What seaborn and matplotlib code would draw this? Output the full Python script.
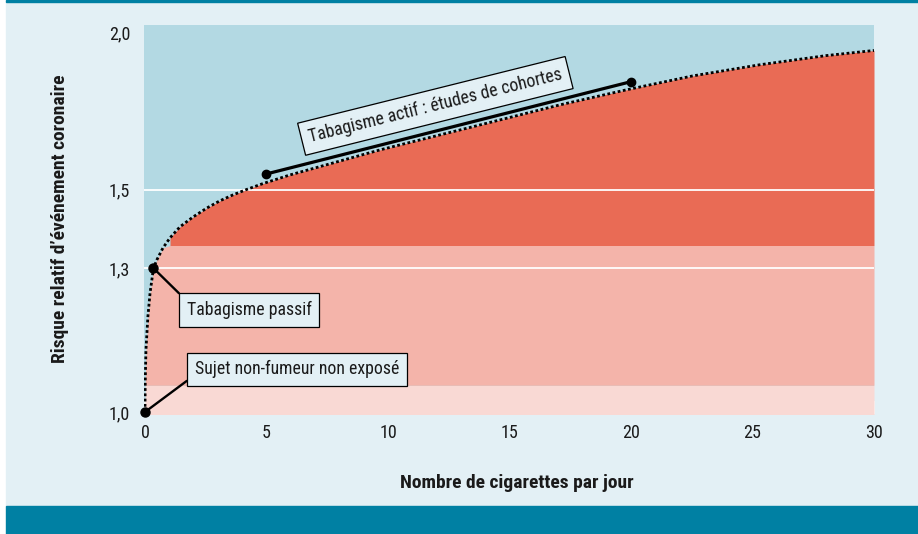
import numpy as np
import pandas as pd
import matplotlib
matplotlib.use("Agg")
import matplotlib.pyplot as plt
from matplotlib.patches import Rectangle
from matplotlib import font_manager
import seaborn as sns

# ---------------- data ----------------
cig_per_day = [0, 0.01, 0.04, 0.12, 0.21, 0.35, 0.49, 0.74, 1.03, 1.44, 1.97,
               2.55, 3.08, 3.62, 4.19, 4.81, 5.96, 9.66, 13.77, 17.06, 19.81,
               22.52, 25.28, 28.03, 30.0]
relative_risk = [1.0, 1.054, 1.12, 1.19, 1.243, 1.30, 1.32, 1.349, 1.374, 1.402,
                 1.427, 1.451, 1.470, 1.486, 1.501, 1.516, 1.541, 1.613, 1.688,
                 1.751, 1.800, 1.846, 1.884, 1.916, 1.934]

band_edges = [0.99, 1.05, 1.355, 2.1]          # light pink / pink / red
band_colors = ["#F9D9D4", "#F4B4AA", "#E96B55"]

cohort_x = [5, 20]
cohort_y = [1.544, 1.827]

passive_x, passive_y = 0.35, 1.30
nonsmoker_x, nonsmoker_y = 0, 1.0

x_ticks = [0, 5, 10, 15, 20, 25, 30]
x_ticklabels = ["0", "5", "10", "15", "20", "25", "30"]
y_ticks = [1.0, 1.3, 1.5, 2.0]
y_ticklabels = ["1,0", "1,3", "1,5", "2,0"]
grid_levels = [1.3, 1.5]

label_active = "Tabagisme actif : études de cohortes"
label_passive = "Tabagisme passif"
label_nonsmoker = "Sujet non-fumeur non exposé"
x_title = "Nombre de cigarettes par jour"
y_title = "Risque relatif d\u2019événement coronaire"

# ---------------- style ----------------
sns.set_theme(style="white")
available = {f.name for f in font_manager.fontManager.ttflist}
family = "DejaVu Sans"
for cand in ["Liberation Sans Narrow", "Roboto Condensed", "Open Sans Condensed",
             "Noto Sans", "Liberation Sans"]:
    if cand in available:
        family = cand
        break
plt.rcParams["font.family"] = [family, "DejaVu Sans"]

BG = "#E3F0F5"
BLUE = "#B3D9E3"
TEAL = "#0080A3"
TXT = "#1A1A1A"
FS = 12.8
FSB = 14

fig = plt.figure(figsize=(9.18, 5.34), dpi=100, facecolor="white")
fig.patches.append(Rectangle((6/918, 28/534), 912/918, 504/534,
                             transform=fig.transFigure, color=BG, zorder=-10))
fig.patches.append(Rectangle((6/918, 0), 912/918, 28/534,
                             transform=fig.transFigure, color=TEAL, zorder=-10))
fig.patches.append(Rectangle((6/918, 532/534), 912/918, 2/534,
                             transform=fig.transFigure, color=TEAL, zorder=-10))

ax = fig.add_axes([144/918, 1 - 414/534, 730/918, 389/534])
ax.set_facecolor(BLUE)
ax.set_yscale("log")
ax.set_xlim(-0.04, 30)
ax.set_ylim(0.9964, 2.026)

xs = np.array(cig_per_day)
ys = np.array(relative_risk)

# coloured bands under the curve
for lo, hi, col in zip(band_edges[:-1], band_edges[1:], band_colors):
    top = np.clip(ys, lo, hi)
    ax.fill_between(xs, lo, top, where=ys >= lo, color=col, lw=0, zorder=1)

for g in grid_levels:
    ax.axhline(g, color="white", lw=1.3, zorder=3)

df = pd.DataFrame({"x": cig_per_day, "y": relative_risk})
sns.lineplot(data=df, x="x", y="y", sort=False, estimator=None, ax=ax,
             color="black", lw=2.0, linestyle=(0, (1.0, 0.9)), zorder=5)

# cohort segment
ax.plot(cohort_x, cohort_y, color="black", lw=2.3, marker="o", ms=6,
        solid_capstyle="round", zorder=6, clip_on=False)
ax.plot([passive_x, nonsmoker_x], [passive_y, nonsmoker_y], ls="none",
        marker="o", ms=6.5, color="black", zorder=7, clip_on=False)

box = dict(boxstyle="square,pad=0.42", fc=BG, ec="black", lw=0.9)
ax.text(11.95, 1.748, label_active, rotation=14, rotation_mode="anchor",
        ha="center", va="center", fontsize=FS, color=TXT, bbox=box, zorder=8)

ax.annotate(label_passive, xy=(passive_x, passive_y), xytext=(4.29, 1.2046),
            ha="center", va="center", fontsize=FS, color=TXT, bbox=box,
            arrowprops=dict(arrowstyle="-", color="black", lw=1.7,
                            relpos=(0, 1), shrinkA=0, shrinkB=0),
            zorder=8)
ax.annotate(label_nonsmoker, xy=(nonsmoker_x, nonsmoker_y), xytext=(6.25, 1.0816),
            ha="center", va="center", fontsize=FS, color=TXT, bbox=box,
            arrowprops=dict(arrowstyle="-", color="black", lw=1.7,
                            relpos=(-0.02, 0), shrinkA=0, shrinkB=0),
            zorder=8)

# axes / ticks
for s in ax.spines.values():
    s.set_visible(False)
ax.set_xticks(x_ticks)
ax.set_xticklabels(x_ticklabels)
ax.set_yticks(y_ticks)
ax.set_yticklabels(y_ticklabels)
ax.yaxis.set_minor_locator(matplotlib.ticker.NullLocator())
ax.tick_params(axis="x", direction="in", length=9.5, width=1.1, color="white",
               pad=7.0, labelsize=13, labelcolor=TXT, bottom=True)
ax.tick_params(axis="y", length=0, pad=10, labelsize=13, labelcolor=TXT, left=True)
ax.set_xlabel("")
ax.set_ylabel("")
ax.grid(False)

fig.text(517/918, 1 - 488/534, x_title, ha="center", va="baseline",
         fontsize=FSB, fontweight="bold", color=TXT)
fig.text(60/918, 1 - 219/534, y_title, ha="center", va="center", rotation=90,
         fontsize=FSB, fontweight="bold", color=TXT)

fig.savefig("out.png", dpi=100, facecolor="white")
